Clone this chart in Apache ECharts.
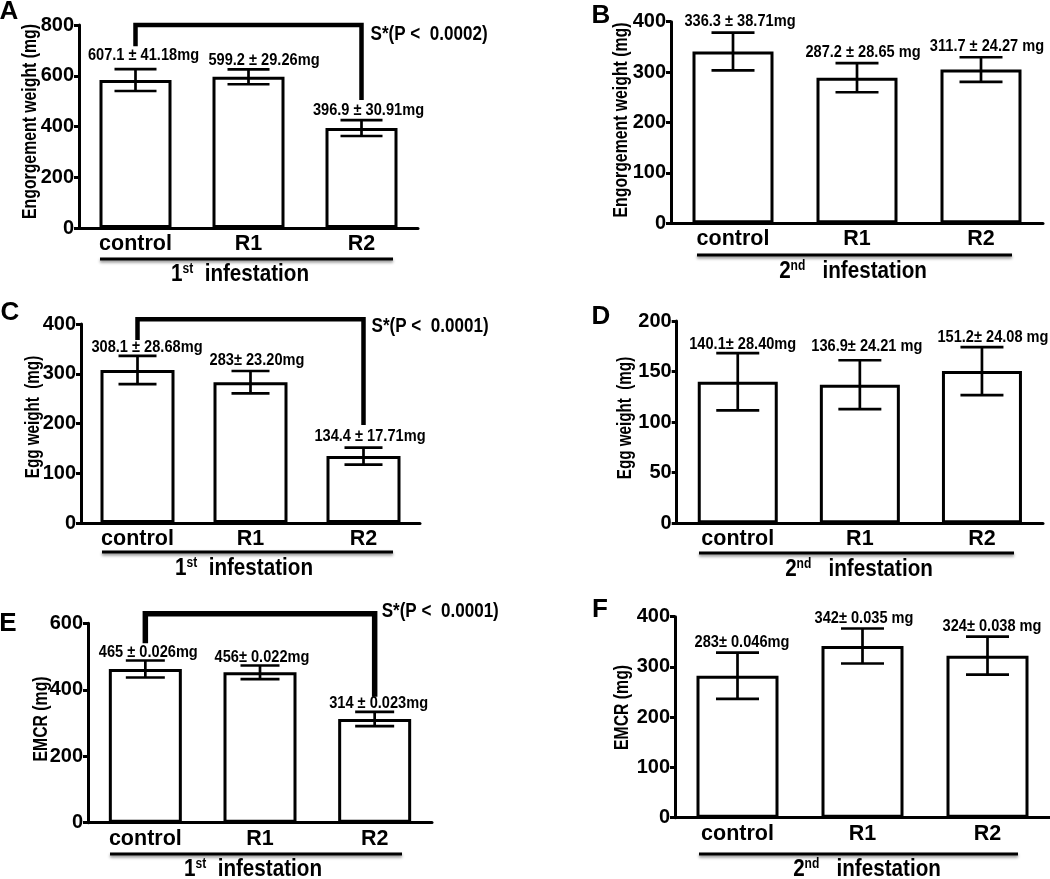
<!DOCTYPE html>
<html>
<head>
<meta charset="utf-8">
<script src="https://cdn.jsdelivr.net/npm/echarts@6/dist/echarts.min.js"></script>
<style>
html,body{margin:0;padding:0;background:#fff;}
#chart{width:1050px;height:879px;}
</style>
</head>
<body>
<div id="chart"></div>
<script>
// ---------------- DATA ----------------
const categories = ['control', 'R1', 'R2'];
const panelLetters = ['A', 'B', 'C', 'D', 'E', 'F'];
const yAxisNames = ['Engorgement weight (mg)', 'Engorgement weight (mg)', 'Egg weight  (mg)', 'Egg weight  (mg)', 'EMCR (mg)', 'EMCR (mg)'];
const yAxisMax = [800, 400, 400, 200, 600, 400];
const yAxisStep = [200, 100, 100, 50, 200, 100];
const infestationNumber = ['1', '2', '1', '2', '1', '2'];
const infestationSuffix = ['st', 'nd', 'st', 'nd', 'st', 'nd'];

const meanA = [583, 596, 394];
const errA = [43, 29.5, 31.5];
const labelsA = ['607.1 \u00b1 41.18mg', '599.2 \u00b1 29.26mg', '396.9 \u00b1 30.91mg'];

const meanB = [341, 289, 305];
const errB = [37.5, 29, 24.5];
const labelsB = ['336.3 \u00b1 38.71mg', '287.2 \u00b1 28.65 mg', '311.7 \u00b1 24.27 mg'];

const meanC = [307.5, 283, 134.5];
const errC = [28.5, 22.5, 17.2];
const labelsC = ['308.1 \u00b1 28.68mg', '283\u00b1 23.20mg', '134.4 \u00b1 17.71mg'];

const meanD = [140, 137, 150.5];
const errD = [28.3, 24.2, 23.7];
const labelsD = ['140.1\u00b1 28.40mg', '136.9\u00b1 24.21 mg', '151.2\u00b1 24.08 mg'];

const meanE = [462.5, 452.5, 312];
const errE = [25.6, 20.5, 21.5];
const labelsE = ['465 \u00b1 0.026mg', '456\u00b1 0.022mg', '314 \u00b1 0.023mg'];

const meanF = [282.6, 341.7, 322.4];
const errF = [46, 34.8, 37.8];
const labelsF = ['283\u00b1 0.046mg', '342\u00b1 0.035 mg', '324\u00b1 0.038 mg'];

// significance brackets (panels A, C, E): from category 0 to category 2
const sigPanelIndex = [0, 2, 4];
const sigTop = [800, 409.6, 628.5];
const sigLeftEnd = [716, 368, 540];
const sigRightEnd = [504, 197, 379];
const sigLabels = ['S*(P <  0.0002)', 'S*(P <  0.0001)', 'S*(P <  0.0001)'];

const means = [meanA, meanB, meanC, meanD, meanE, meanF];
const errs = [errA, errB, errC, errD, errE, errF];
const valueLabels = [labelsA, labelsB, labelsC, labelsD, labelsE, labelsF];

// ---------------- LAYOUT / STYLE ----------------
const FONT = '"Liberation Sans", Arial, Helvetica, sans-serif';
const layout = [
  {grid:{left:79, top:25, width:339, height:203}, yName:[30,121.5], yScale:0.79, barWidth:72, cap:21, letter:[9,12], line:[100,393,259], inf:[240,274.5], spaces:'  ',
    ldx:[8,15.5,7], ldy:[-13.5,-9,-10]},
  {grid:{left:671, top:21.7, width:372, height:201.6}, yName:[621,120], yScale:0.79, barWidth:81, cap:21.5, letter:[601,16], line:[697,1012,255], inf:[853,271], spaces:'   ',
    ldx:[7,6,6], ldy:[-10.7,-10.3,-11]},
  {grid:{left:81, top:324, width:339, height:199}, yName:[33,417], yScale:0.76, barWidth:74, cap:19, letter:[10,312.5], line:[102,393,552], inf:[244,568], spaces:'  ',
    ldx:[9.5,6.5,6.5], ldy:[-8.8,-10.4,-11.5]},
  {grid:{left:676.7, top:321, width:366.3, height:202.3}, yName:[625,418], yScale:0.76, barWidth:80, cap:21.5, letter:[601,316.7], line:[699,1014,553], inf:[859,569], spaces:'   ',
    ldx:[5,7,11], ldy:[-9,-13.4,-9.6]},
  {grid:{left:88, top:623.3, width:344, height:199.4}, yName:[41,719], yScale:0.79, barWidth:73, cap:19.5, letter:[8,624], line:[110,402,854], inf:[253,869.5], spaces:'  ',
    ldx:[3,2,4], ldy:[-8.5,-8.5,-8]},
  {grid:{left:675, top:616.7, width:375, height:201}, yName:[622.5,707.5], yScale:0.79, barWidth:82, cap:21.5, letter:[600,610], line:[699,1018,854], inf:[867,869.5], spaces:'   ',
    ldx:[4.5,1.5,4.5], ldy:[-10,-10.3,-10]}
];
const sigStyle = [
  {lw:4.5, off:[9,10]},
  {lw:4.5, off:[8,7]},
  {lw:5.5, off:[7,-2]}
];

function errRender(labels, L) {
  const capHalf = L.cap;
  return function (params, api) {
    const k = params.dataIndex;
    const x = api.value(0), m = api.value(1), e = api.value(2);
    const top = api.coord([x, m + e]);
    const bot = api.coord([x, m - e]);
    const cx = top[0];
    const st = {stroke:'#000', lineWidth:2.7, fill:'none'};
    return {type:'group', children:[
      {type:'line', shape:{x1:cx, y1:top[1], x2:cx, y2:bot[1]}, style:st},
      {type:'line', shape:{x1:cx-capHalf, y1:top[1], x2:cx+capHalf, y2:top[1]}, style:st},
      {type:'line', shape:{x1:cx-capHalf, y1:bot[1], x2:cx+capHalf, y2:bot[1]}, style:st},
      {type:'text', x:cx+L.ldx[k], y:top[1]+L.ldy[k], scaleX:0.87, scaleY:1,
        style:{text:labels[k], font:'bold 16.8px ' + FONT, fill:'#000', align:'center', verticalAlign:'middle'}}
    ]};
  };
}

function bracketRender(text, s) {
  return function (params, api) {
    const a = api.coord([api.value(0), api.value(3)]);
    const b = api.coord([api.value(0), api.value(2)]);
    const c = api.coord([api.value(1), api.value(2)]);
    const d = api.coord([api.value(1), api.value(4)]);
    return {type:'group', children:[
      {type:'polyline', shape:{points:[a,b,c,d]}, style:{stroke:'#000', lineWidth:s.lw, fill:'none', lineJoin:'miter'}},
      {type:'text', x:c[0]+s.off[0], y:c[1]+s.off[1], scaleX:0.875, scaleY:1,
        style:{text:text, font:'bold 19.5px ' + FONT, fill:'#000', align:'left', verticalAlign:'middle'}}
    ]};
  };
}

const grids = [], xAxes = [], yAxes = [], series = [], graphics = [];
layout.forEach(function (L, i) {
  grids.push(Object.assign({containLabel:false, outerBoundsMode:'none'}, L.grid));
  xAxes.push({
    gridIndex:i, type:'category', data:categories,
    axisLine:{lineStyle:{color:'#000', width:3}},
    axisTick:{alignWithLabel:true, length:5, lineStyle:{color:'#000', width:3}},
    axisLabel:{color:'#000', fontSize:21.5, fontWeight:'bold', fontFamily:FONT, margin:5},
    splitLine:{show:false}
  });
  yAxes.push({
    gridIndex:i, type:'value', min:0, max:yAxisMax[i], interval:yAxisStep[i],
    axisLine:{show:true, lineStyle:{color:'#000', width:3}},
    axisTick:{show:true, length:5, lineStyle:{color:'#000', width:3}},
    axisLabel:{color:'#000', fontSize:20, fontWeight:'bold', fontFamily:FONT, margin:5},
    splitLine:{show:false}
  });
  series.push({
    type:'bar', xAxisIndex:i, yAxisIndex:i, data:means[i], barWidth:L.barWidth,
    itemStyle:{color:'#fff', borderColor:'#000', borderWidth:3},
    silent:true, z:2
  });
  series.push({
    type:'custom', xAxisIndex:i, yAxisIndex:i, coordinateSystem:'cartesian2d',
    data:means[i].map(function (m, k) { return [k, m, errs[i][k]]; }),
    encode:{x:0, y:1},
    renderItem:errRender(valueLabels[i], L), silent:true, clip:false, z:3
  });
  // y-axis title (condensed, rotated)
  graphics.push({type:'text', x:L.yName[0], y:L.yName[1], rotation:Math.PI/2, scaleX:L.yScale, scaleY:1,
    style:{text:yAxisNames[i], font:'bold 20px ' + FONT, fill:'#000', align:'center', verticalAlign:'middle'}});
  graphics.push({type:'text', x:L.letter[0], y:L.letter[1], style:{text:panelLetters[i], font:'bold 26px ' + FONT, fill:'#000', align:'center', verticalAlign:'middle'}});
  graphics.push({type:'line', shape:{x1:L.line[0], y1:L.line[2], x2:L.line[1], y2:L.line[2]},
    style:{stroke:'#000', lineWidth:3, shadowBlur:3, shadowColor:'rgba(0,0,0,0.45)', shadowOffsetY:2}});
  graphics.push({type:'text', x:L.inf[0], y:L.inf[1], scaleX:0.86, scaleY:1, style:{
    text:'{n|' + infestationNumber[i] + '}{s|' + infestationSuffix[i] + '}{n|' + L.spaces + 'infestation}',
    rich:{
      n:{fontSize:24, fontWeight:'bold', fontFamily:FONT, fill:'#000'},
      s:{fontSize:14, fontWeight:'bold', fontFamily:FONT, fill:'#000', verticalAlign:'top'}
    },
    align:'center', verticalAlign:'middle'}});
});

sigPanelIndex.forEach(function (p, j) {
  series.push({
    type:'custom', xAxisIndex:p, yAxisIndex:p, coordinateSystem:'cartesian2d',
    data:[[0, 2, sigTop[j], sigLeftEnd[j], sigRightEnd[j]]],
    encode:{x:[0,1], y:[2,3,4]},
    renderItem:bracketRender(sigLabels[j], sigStyle[j]), silent:true, clip:false, z:4
  });
});

const chart = echarts.init(document.getElementById('chart'), null, {renderer:'canvas'});
chart.setOption({
  animation:false,
  backgroundColor:'#fff',
  textStyle:{fontFamily:FONT},
  grid:grids, xAxis:xAxes, yAxis:yAxes, series:series, graphic:graphics
});
</script>
</body>
</html>
